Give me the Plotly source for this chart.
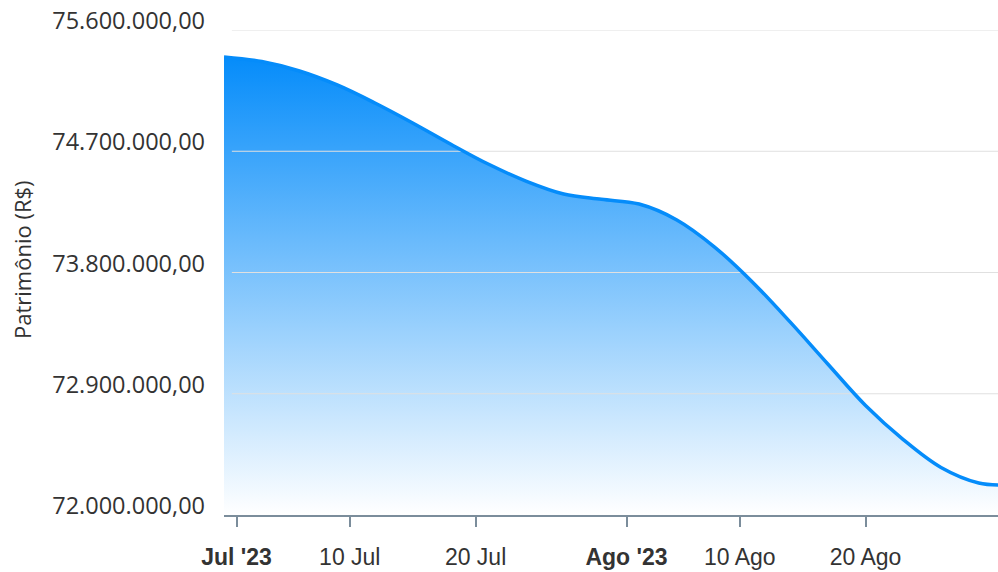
import plotly.graph_objects as go

# Data (R$), every 3 days
dates = ["2023-06-30", "2023-07-03", "2023-07-06", "2023-07-09", "2023-07-12",
         "2023-07-15", "2023-07-18", "2023-07-21", "2023-07-24", "2023-07-27",
         "2023-07-30", "2023-08-02", "2023-08-05", "2023-08-08", "2023-08-11",
         "2023-08-14", "2023-08-17", "2023-08-20", "2023-08-23", "2023-08-26",
         "2023-08-29", "2023-08-31"]
patrimonio = [75400000, 75366000, 75296000, 75192000, 75058000,
              74910000, 74754000, 74605000, 74479000, 74383000,
              74343000, 74308000, 74190000, 73989000, 73730000,
              73433000, 73121000, 72813000, 72560000, 72353000,
              72238000, 72223000]

y_ticks = [72000000, 72900000, 73800000, 74700000, 75600000]
x_tickvals = ["2023-07-01", "2023-07-10", "2023-07-20", "2023-08-01", "2023-08-10", "2023-08-20"]
x_ticktext = ["<b>Jul '23</b>", "10 Jul", "20 Jul", "<b>Ago '23</b>", "10 Ago", "20 Ago"]

x_range = ["2023-06-30", "2023-08-30 12:45"]
grid_start = "2023-06-30 15:00"

LINE = "rgb(5,140,250)"

fig = go.Figure()

# filled area (no line)
fig.add_trace(go.Scatter(
    x=dates, y=patrimonio, mode="lines",
    line=dict(shape="spline", smoothing=1.0, width=0, color=LINE),
    fill="tozeroy",
    fillgradient=dict(type="vertical",
                      colorscale=[[0, "rgb(255,255,255)"], [1, LINE]],
                      start=y_ticks[0], stop=max(patrimonio)),
    hoverinfo="skip", showlegend=False,
))

# grid lines drawn over the fill
gx, gy = [], []
for v in y_ticks[1:]:
    gx += [grid_start, x_range[1], None]
    gy += [v, v, None]
fig.add_trace(go.Scatter(x=gx, y=gy, mode="lines",
                         line=dict(color="#e0e0e0", width=1),
                         hoverinfo="skip", showlegend=False))

# the line
fig.add_trace(go.Scatter(
    x=dates, y=patrimonio, mode="lines",
    line=dict(shape="spline", smoothing=1.0, width=3.5, color=LINE),
    showlegend=False,
))

fig.update_layout(
    width=998, height=572,
    margin=dict(l=224, r=0, t=30, b=57),
    paper_bgcolor="white", plot_bgcolor="white",
    separators=",.",
    showlegend=False,
    annotations=[dict(
        text="Patrimônio (R$)", textangle=-90, showarrow=False,
        xref="paper", yref="paper",
        x=(22 - 224) / 774, y=(515 - 260) / 485,
        xanchor="center", yanchor="middle",
        font=dict(family="Open Sans, sans-serif", size=22, color="#333333"),
    )],
)

fig.update_xaxes(
    type="date", range=x_range,
    tickvals=x_tickvals, ticktext=x_ticktext,
    showgrid=False, zeroline=False,
    showline=True, linecolor="#7b8d9b", linewidth=2,
    ticks="outside", ticklen=10, tickwidth=2, tickcolor="#7b8d9b",
    tickfont=dict(family="Liberation Sans, Arial, sans-serif", size=23, color="#333333"),
    ticklabelstandoff=10,
)

fig.update_yaxes(
    range=[y_ticks[0], y_ticks[-1]],
    tickvals=y_ticks, tickformat=",.2f",
    showgrid=False, zeroline=False, showline=False,
    tickfont=dict(family="Open Sans, sans-serif", size=23.5, color="#333333"),
    ticklabelstandoff=18, ticklabelshift=-9,
)

fig.write_html("out.html",
               config={"displayModeBar": False},
               post_script="document.body.style.margin='0';document.body.style.overflow='hidden';")
